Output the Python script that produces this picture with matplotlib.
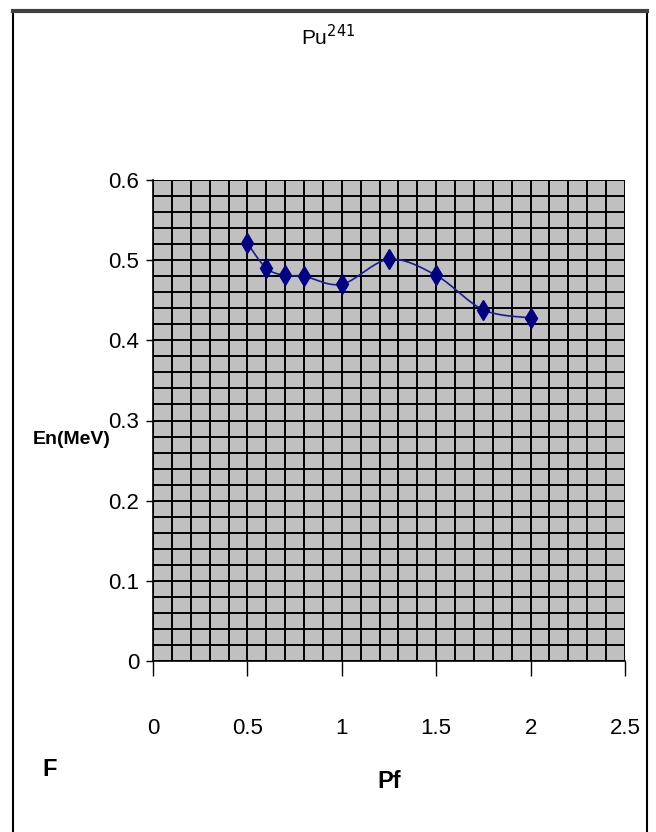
import matplotlib
matplotlib.use("Agg")
import matplotlib.pyplot as plt
from matplotlib.lines import Line2D
from matplotlib.patches import Rectangle
import numpy as np

plt.rcParams['font.family'] = ['Liberation Sans', 'DejaVu Sans']

# data
pf = [0.5, 0.6, 0.7, 0.8, 1.0, 1.25, 1.5, 1.75, 2.0]
en = [0.521, 0.490, 0.481, 0.480, 0.470, 0.501, 0.481, 0.438, 0.428]
x_ticks = [0, 0.5, 1, 1.5, 2, 2.5]
x_tick_labels = ['0', '0.5', '1', '1.5', '2', '2.5']
y_ticks = [0, 0.1, 0.2, 0.3, 0.4, 0.5, 0.6]
y_tick_labels = ['0', '0.1', '0.2', '0.3', '0.4', '0.5', '0.6']


def smooth(xs, ys, n=20):
    # Catmull-Rom curve through the points (like Excel's smoothed line)
    xs = np.asarray(xs, float)
    ys = np.asarray(ys, float)
    px = np.concatenate([[xs[0]], xs, [xs[-1]]])
    py = np.concatenate([[ys[0]], ys, [ys[-1]]])
    out_x, out_y = [], []
    t = np.linspace(0, 1, n)
    for i in range(1, len(px) - 2):
        for arr, out in ((px, out_x), (py, out_y)):
            p0, p1, p2, p3 = arr[i - 1], arr[i], arr[i + 1], arr[i + 2]
            out.extend(0.5 * (2 * p1 + (-p0 + p2) * t
                              + (2 * p0 - 5 * p1 + 4 * p2 - p3) * t ** 2
                              + (-p0 + 3 * p1 - 3 * p2 + p3) * t ** 3))
    return out_x, out_y


fig = plt.figure(figsize=(6.56, 8.32), dpi=100)
ax = fig.add_axes([153 / 656, 1 - 661 / 832, (625 - 153) / 656, (661 - 180) / 832])
ax.set_facecolor('#c0c0c0')

sx, sy = smooth(pf, en)
ax.plot(sx, sy, color='#1c1c90', lw=1.2, zorder=3)
ax.plot(pf, en, linestyle='none', marker='d', markersize=10,
        color='#000080', zorder=4)

ax.set_xlim(0, 2.5)
ax.set_ylim(0, 0.6)
ax.set_xticks(x_ticks)
ax.set_xticklabels(x_tick_labels)
ax.set_yticks(y_ticks)
ax.set_yticklabels(y_tick_labels)
ax.set_xticks(np.arange(0, 2.51, 0.1), minor=True)
ax.set_yticks(np.arange(0, 0.601, 0.02), minor=True)
ax.grid(which='both', color='black', lw=1.4)
ax.set_axisbelow(True)
ax.tick_params(axis='x', which='major', direction='out', length=11, width=1,
               pad=30, labelsize=16)
ax.tick_params(axis='y', which='major', direction='out', length=5, width=1,
               pad=5, labelsize=16)
ax.tick_params(which='minor', length=0)
for side in ['top', 'right']:
    ax.spines[side].set_visible(False)
ax.spines['left'].set_linewidth(1.2)
ax.spines['bottom'].set_linewidth(1.2)

fig.text(328 / 656, 1 - 37 / 832, 'Pu$^{241}$', ha='center', va='center', fontsize=15)
fig.text(111 / 656, 1 - 440 / 832, 'En(MeV)', ha='right', va='center',
         fontsize=14, fontweight='bold')
fig.text(50 / 656, 1 - 770 / 832, 'F', ha='center', va='center',
         fontsize=17, fontweight='bold')
fig.text(389 / 656, 1 - 782 / 832, 'Pf', ha='center', va='center',
         fontsize=17, fontweight='bold')

# outer frame
fig.patches.append(Rectangle((13 / 656, -0.05), (647 - 13) / 656, 1.05 - 11 / 832,
                             transform=fig.transFigure, fill=False,
                             edgecolor='black', lw=1.5))
fig.lines.append(Line2D([13 / 656, 647 / 656], [1 - 11 / 832] * 2,
                        transform=fig.transFigure, color='#404040', lw=3))

fig.savefig('out.png', dpi=100)
